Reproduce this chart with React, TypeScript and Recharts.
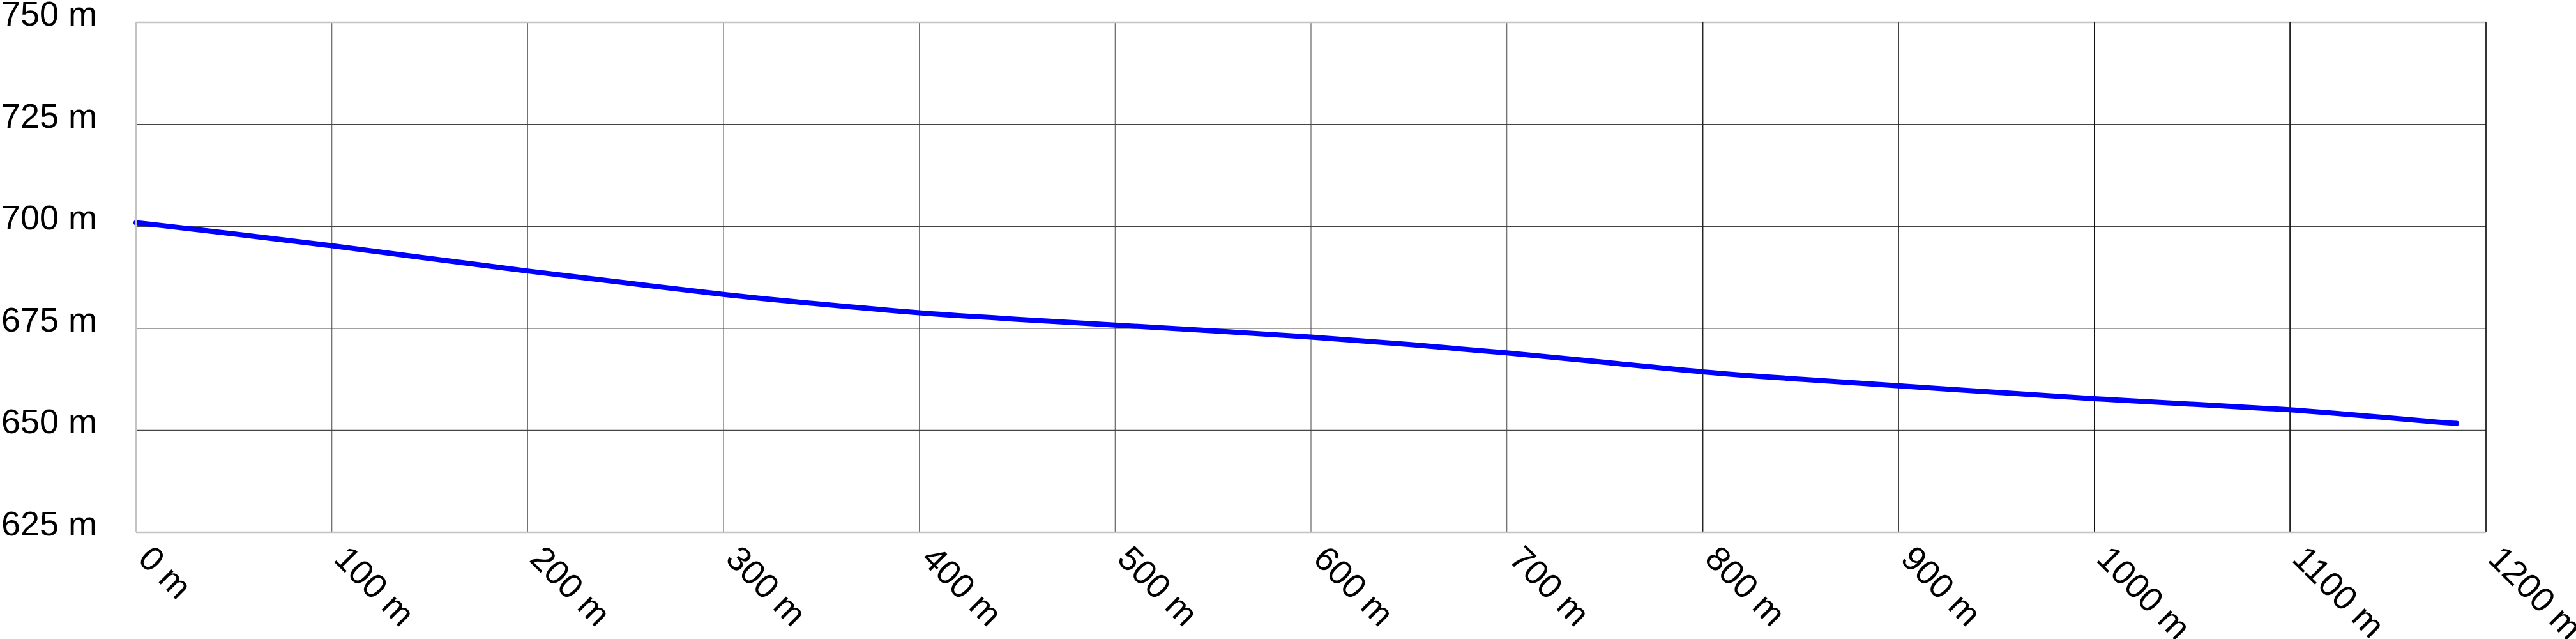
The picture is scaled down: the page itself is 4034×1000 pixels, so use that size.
import { CartesianGrid, Line, LineChart, ReferenceLine, XAxis, YAxis } from 'recharts'

// elevation profile, distance in m along the track
const distances = [
  0, 50, 100, 150, 200, 250, 300, 350, 400, 450, 500, 550, 600, 650, 700, 750, 800, 850, 900, 950,
  1000, 1050, 1100, 1125, 1150, 1175, 1185,
]
const elevations = [
  700.9, 698.2, 695.3, 692.1, 689.0, 686.2, 683.2, 680.9, 678.7, 677.2, 675.8, 674.4, 672.9, 671.1,
  669.0, 666.7, 664.2, 662.5, 660.9, 659.3, 657.7, 656.4, 655.1, 654.1, 653.1, 652.0, 651.7,
]

const xTicks = [0, 100, 200, 300, 400, 500, 600, 700, 800, 900, 1000, 1100, 1200]
const yTicks = [625, 650, 675, 700, 725, 750]
// grid lines that look heavier in the picture
const darkX = [800, 1100]
const blackX = [900, 1000]

const data = distances.map((d, i) => ({ d, h: elevations[i] }))

const FONT = '"Liberation Sans", Arial, sans-serif'

function XTick({ x, y, payload }: any) {
  const tx = x + 1
  const ty = y + 44
  return (
    <text
      x={tx}
      y={ty}
      transform={`rotate(45, ${tx}, ${ty})`}
      textAnchor="start"
      fontSize={54}
      fontFamily={FONT}
      fill="#000"
    >
      {`${payload.value} m`}
    </text>
  )
}

function YTick({ x, y, payload }: any) {
  return (
    <text x={x - 61} y={y + 5} textAnchor="end" fontSize={54} fontFamily={FONT} fill="#000">
      {`${payload.value} m`}
    </text>
  )
}

export default function App() {
  return (
    <div style={{ position: 'absolute', left: 0, top: 0, width: 4034, height: 1000, background: '#fff' }}>
      <LineChart width={4034} height={1000} data={data} margin={{ top: 35, right: 141, bottom: 0, left: 0 }}>
        <CartesianGrid horizontal={false} stroke="#707070" strokeWidth={1.3} />
        <CartesianGrid vertical={false} stroke="#444" strokeWidth={1.4} />
        <XAxis
          type="number"
          dataKey="d"
          domain={[0, 1200]}
          ticks={xTicks}
          height={167}
          tickSize={0}
          tickMargin={0}
          tickLine={false}
          axisLine={{ stroke: '#c4c4c4', strokeWidth: 2.5 }}
          tick={<XTick />}
          interval={0}
        />
        <YAxis
          type="number"
          domain={[625, 750]}
          ticks={yTicks}
          width={213}
          tickSize={0}
          tickMargin={0}
          tickLine={false}
          axisLine={{ stroke: '#c4c4c4', strokeWidth: 2.5 }}
          tick={<YTick />}
          interval={0}
        />
        <ReferenceLine y={750} stroke="#c4c4c4" strokeWidth={2.5} />
        {darkX.map((v) => (
          <ReferenceLine key={v} x={v} stroke="#222" strokeWidth={2.2} />
        ))}
        {blackX.map((v) => (
          <ReferenceLine key={v} x={v} stroke="#111" strokeWidth={1.3} />
        ))}
        <ReferenceLine x={1200} stroke="#111" strokeWidth={1.5} />
        <Line
          type="basis"
          dataKey="h"
          stroke="#0000ff"
          strokeWidth={8}
          strokeLinecap="round"
          dot={false}
          activeDot={false}
          isAnimationActive={false}
        />
      </LineChart>
    </div>
  )
}
